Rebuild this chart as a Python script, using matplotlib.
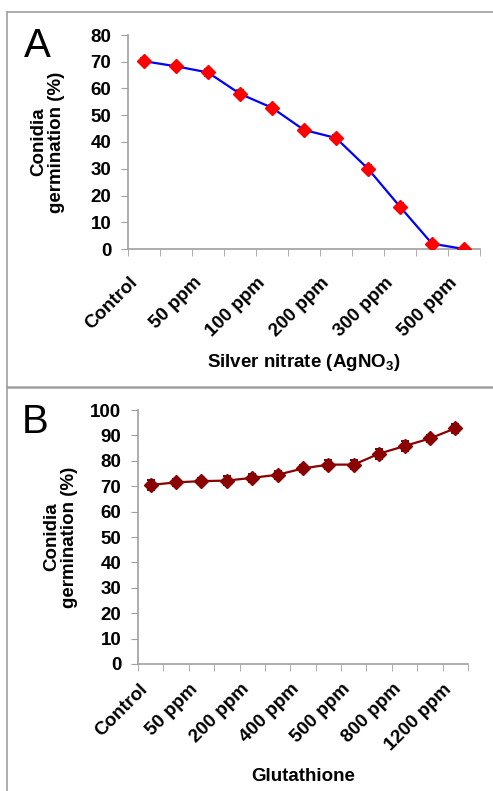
import numpy as np
import matplotlib
matplotlib.use("Agg")
import matplotlib.pyplot as plt
from matplotlib.transforms import ScaledTranslation

plt.rcParams['font.family'] = ['Liberation Sans', 'DejaVu Sans']
plt.rcParams['mathtext.fontset'] = 'custom'
plt.rcParams['mathtext.rm'] = 'Liberation Sans:bold'
plt.rcParams['mathtext.bf'] = 'Liberation Sans:bold'

# panel A: silver nitrate
silver_labels = ['Control', '', '50 ppm', '', '100 ppm', '', '200 ppm', '', '300 ppm', '', '500 ppm']
silver_values = [70.2, 68.3, 66.0, 58.0, 52.8, 44.5, 41.5, 30.0, 15.8, 2.0, 0.0]
silver_err = [1.2, 1.0, 1.2, 1.3, 1.2, 1.2, 1.2, 1.3, 1.4, 1.0, 0.8]

# panel B: glutathione
gluta_labels = ['Control', '', '50 ppm', '', '200 ppm', '', '400 ppm', '', '500 ppm', '', '800 ppm', '', '1200 ppm']
gluta_values = [70.5, 71.5, 72.0, 72.2, 73.3, 74.5, 77.0, 78.5, 78.5, 82.8, 85.8, 88.8, 92.8]
gluta_err = [1.8, 1.5, 1.2, 1.8, 1.5, 1.5, 1.5, 1.8, 1.8, 2.0, 1.8, 1.5, 1.8]

W, H = 493, 791
fig = plt.figure(figsize=(W / 100, H / 100), dpi=100)

# panel borders
border = '#a0a0a0'
fig.add_artist(plt.Line2D([7/W, 1], [1-12/H, 1-12/H], color=border, lw=1.2))
fig.add_artist(plt.Line2D([7/W, 7/W], [0, 1-12/H], color=border, lw=1.2))
fig.add_artist(plt.Line2D([7/W, 1], [1-387/H, 1-387/H], color=border, lw=1.8))

fs = 13.5


def draw_panel(ax, labels, values, err, ymax, color, mcolor, ecolor, xlabel,
               ylab_x, xlab_y, xpad, xshift):
    x = np.arange(len(values))
    ax.errorbar(x, values, yerr=err, color=color, lw=1.6, marker='D', ms=7,
                mfc=mcolor, mec=mcolor, ecolor=ecolor, elinewidth=1.3,
                capsize=3, capthick=1.3, zorder=3)
    ax.set_xlim(-0.5, len(values) - 0.5)
    ax.set_ylim(0, ymax)
    ax.set_yticks(np.arange(0, ymax + 1, 10))
    ax.set_xticks(x)
    ax.set_xticklabels(labels, rotation=45, ha='right', va='top',
                       rotation_mode='anchor', fontsize=fs, fontweight='bold')
    ax.set_xticks(np.arange(-0.5, len(values)), minor=True)
    ax.tick_params(axis='x', which='major', length=0, pad=xpad)
    ax.tick_params(axis='x', which='minor', length=5, color=border, direction='out')
    ax.tick_params(axis='y', length=5, color=border, labelsize=fs, pad=7)
    # nudge the slanted labels left, as in the source figure
    shift = ScaledTranslation(xshift / 100, 0, fig.dpi_scale_trans)
    for lab in ax.get_xticklabels():
        lab.set_transform(lab.get_transform() + shift)
    for lab in ax.get_yticklabels():
        lab.set_fontweight('bold')
    for s in ['top', 'right']:
        ax.spines[s].set_visible(False)
    for s in ['left', 'bottom']:
        ax.spines[s].set_color(border)
        ax.spines[s].set_linewidth(1.2)
    ax.set_ylabel('Conidia\ngermination (%)', fontsize=fs, fontweight='bold',
                  linespacing=1.05)
    ax.yaxis.set_label_coords(ylab_x, 0.5)
    ax.set_xlabel(xlabel, fontsize=fs, fontweight='bold')
    ax.xaxis.set_label_coords(0.5, xlab_y)


axA = fig.add_axes([128/W, 1-249/H, (480-128)/W, (249-35)/H])
draw_panel(axA, silver_labels, silver_values, silver_err, 80, '#0000FF', '#FF0000', '#404040',
           r'Silver nitrate (AgNO$_{\mathbf{3}}$)', -0.179, -0.48, 18, -15)

axB = fig.add_axes([138/W, 1-664/H, (468-138)/W, (664-410)/H])
draw_panel(axB, gluta_labels, gluta_values, gluta_err, 100, '#8B0000', '#8B0000', '#3a0000',
           'Glutathione', -0.182, -0.41, 12, -12)

fig.text(24/W, 1-57/H, 'A', fontsize=29)
fig.text(22/W, 1-433/H, 'B', fontsize=29)

fig.savefig('out.png', dpi=100)
